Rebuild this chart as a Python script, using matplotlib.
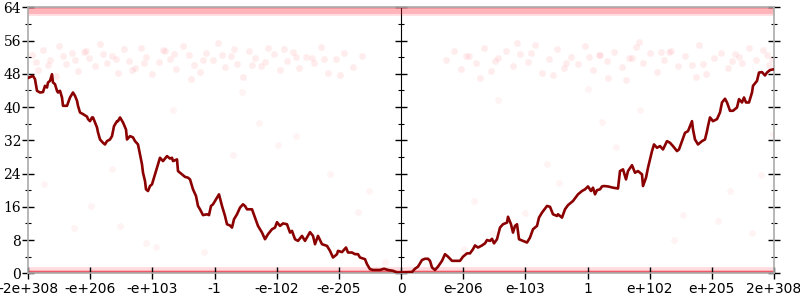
import matplotlib.pyplot as plt
import numpy as np

# sample index along the ordered float axis (0 .. 746) and the traced value
line_x = [0, 5, 7, 9, 12, 15, 17, 19, 20, 22, 24, 25, 27, 29, 30, 32, 34, 35, 39, 42,
          45, 47, 49, 50, 52, 55, 59, 60, 62, 64, 65, 67, 69, 70, 72, 75, 77, 79, 82, 84,
          86, 89, 90, 92, 95, 98, 99, 102, 105, 107, 110, 112, 114, 115, 117, 118, 120, 122, 124, 127,
          129, 132, 135, 139, 142, 144, 145, 149, 150, 154, 157, 160, 162, 165, 168, 170, 172, 175, 179, 181,
          183, 185, 187, 189, 191, 194, 195, 197, 199, 202, 204, 206, 209, 212, 215, 217, 219, 224, 227, 230,
          234, 237, 240, 244, 247, 249, 252, 255, 259, 262, 264, 267, 270, 274, 277, 282, 285, 287, 290, 294,
          299, 302, 305, 309, 310, 314, 318, 320, 324, 327, 330, 332, 337, 339, 342, 345, 352, 356, 360, 365,
          369, 375, 384, 387, 390, 394, 397, 400, 402, 404, 407, 410, 414, 417, 420, 422, 424, 432, 435, 439,
          442, 445, 447, 450, 454, 457, 459, 462, 464, 466, 469, 472, 475, 479, 480, 483, 485, 487, 489, 491,
          495, 499, 502, 505, 509, 511, 514, 519, 522, 525, 529, 530, 534, 537, 540, 545, 550, 554, 557, 560,
          563, 565, 567, 569, 572, 574, 576, 580, 585, 590, 592, 595, 598, 600, 604, 607, 610, 614, 615, 618,
          620, 624, 626, 629, 632, 635, 639, 642, 645, 649, 651, 654, 657, 660, 664, 665, 667, 670, 674, 677,
          679, 680, 682, 685, 689, 692, 694, 697, 699, 702, 705, 709, 711, 714, 716, 718, 721, 724, 725, 729,
          731, 734, 737, 739, 742, 746]
line_y = [47.0, 47.5, 46.7, 43.9, 43.5, 43.6, 45.1, 44.7, 45.9, 46.3, 47.9, 45.9, 45.5, 43.9, 43.5, 43.9, 42.3, 40.3, 40.3, 42.3,
          43.5, 42.7, 41.5, 40.3, 38.7, 38.3, 37.7, 37.1, 36.6, 37.5, 37.5, 36.3, 35.1, 33.9, 32.2, 31.4, 31.0, 31.8, 32.2, 33.0,
          35.4, 36.6, 36.6, 37.5, 36.3, 34.6, 32.2, 33.0, 32.7, 31.8, 31.0, 28.6, 26.2, 24.2, 22.2, 20.2, 19.8, 21.0, 21.4, 23.8,
          25.4, 27.8, 27.0, 28.2, 27.6, 27.8, 27.0, 27.4, 24.6, 23.8, 23.2, 23.0, 22.6, 20.2, 18.6, 16.2, 15.4, 14.0, 14.2, 14.0,
          16.2, 16.6, 17.4, 18.2, 19.0, 16.2, 15.4, 13.8, 11.8, 11.5, 11.0, 13.0, 14.2, 15.8, 16.6, 16.2, 15.4, 15.4, 13.4, 11.4,
          9.8, 8.2, 9.4, 10.6, 11.0, 12.3, 11.4, 12.0, 11.8, 9.8, 10.2, 8.2, 7.8, 9.0, 7.8, 9.9, 9.0, 7.0, 9.0, 7.0,
          6.6, 5.4, 3.8, 4.6, 5.4, 5.1, 6.2, 5.0, 5.0, 4.6, 4.6, 3.8, 3.4, 2.2, 1.0, 0.8, 0.8, 1.1, 0.8, 0.6,
          0.2, 0.2, 0.3, 1.1, 1.6, 3.2, 3.5, 3.5, 3.0, 1.4, 0.8, 1.6, 3.0, 4.6, 4.0, 3.5, 3.0, 3.0, 4.0, 4.8,
          4.8, 5.8, 6.7, 6.2, 6.7, 7.2, 8.0, 7.8, 8.3, 7.2, 8.2, 11.0, 11.8, 12.2, 13.6, 11.8, 9.8, 11.4, 11.8, 8.2,
          7.8, 7.4, 8.6, 10.6, 11.4, 13.4, 14.6, 16.2, 16.0, 14.2, 13.8, 14.2, 13.4, 15.4, 16.4, 17.4, 19.0, 19.8, 20.2, 20.9,
          19.8, 20.6, 19.0, 20.0, 20.2, 20.9, 21.0, 20.9, 20.6, 20.4, 24.6, 25.0, 22.6, 24.6, 26.0, 24.2, 24.6, 23.8, 21.0, 23.0,
          25.4, 29.4, 31.0, 30.2, 30.6, 29.8, 31.8, 31.4, 30.6, 29.4, 29.8, 31.8, 33.8, 34.2, 36.6, 34.6, 32.2, 31.0, 31.8, 32.2,
          34.2, 35.4, 37.5, 36.6, 37.1, 38.7, 41.1, 42.0, 41.1, 39.1, 39.1, 39.9, 41.9, 41.1, 42.3, 41.1, 41.1, 43.5, 45.1, 46.3,
          48.3, 48.4, 47.6, 48.3, 48.9, 49.1]

# faint cloud of samples between 46 and 56
cloud_x = [4, 10, 15, 22, 28, 31, 38, 44, 50, 56, 61, 67, 72, 79, 84, 90, 96, 101, 107, 113,
           118, 124, 131, 137, 142, 148, 155, 161, 166, 172, 178, 185, 190, 197, 203, 209, 215, 221, 227, 233,
           240, 246, 252, 259, 265, 271, 278, 286, 293, 300, 308, 316, 325, 334, 20, 47, 75, 104, 135, 163,
           194, 224, 256, 284, 312, 8, 35, 58, 88, 116, 146, 175, 206, 237, 268, 296,
           418, 426, 433, 441, 448, 456, 463, 470, 478, 485, 492, 500, 507, 514, 521, 529, 536, 543, 550, 557,
           565, 572, 579, 586, 594, 601, 608, 615, 622, 629, 636, 643, 650, 657, 664, 671, 678, 686, 693, 700,
           707, 714, 721, 728, 735, 741, 452, 489, 525, 561, 598, 633, 668, 704, 739, 611, 580,
           438, 467, 503, 538, 571, 604, 641, 675, 711, 744]
cloud_y = [52.5, 49.0, 53.8, 51.2, 47.5, 54.6, 50.3, 52.9, 48.6, 53.2, 51.7, 49.8, 55.1, 50.6, 52.2, 48.1, 53.9, 51.0, 49.4, 54.3,
           52.0, 47.9, 50.8, 53.5, 51.5, 49.1, 54.8, 52.6, 50.1, 48.4, 53.0, 51.3, 55.4, 49.6, 52.4, 50.4, 47.2, 53.6, 51.9, 49.9,
           54.1, 52.8, 48.8, 51.1, 53.3, 49.3, 52.1, 50.7, 54.5, 48.3, 51.6, 53.1, 49.7, 52.3, 50.0, 51.4, 52.7, 48.9, 53.7, 46.8,
           52.5, 50.2, 54.0, 51.8, 47.6, 50.9, 52.2, 53.4, 51.6, 50.5, 52.8, 51.2, 53.9, 50.8, 52.0, 51.5,
           51.3, 53.6, 49.2, 52.4, 50.5, 54.2, 48.7, 51.9, 53.4, 49.8, 52.8, 50.9, 55.0, 48.2, 51.5, 53.9, 49.5, 52.1, 50.3, 54.7,
           48.9, 52.6, 51.0, 53.2, 49.6, 51.8, 54.4, 50.7, 52.9, 48.5, 51.2, 53.5, 49.9, 52.2, 50.1, 54.9, 48.0, 51.7, 53.0, 49.4,
           52.7, 50.6, 54.1, 51.4, 53.8, 50.2, 46.9, 55.3, 47.7, 52.0, 46.6, 53.3, 47.3, 51.1, 52.5, 55.6, 47.0,
           52.3, 51.1, 53.0, 50.6, 52.6, 51.9, 53.3, 50.4, 52.1, 51.6]

# sparse samples in between
sparse_x = [46, 92, 118, 176, 205, 231, 268, 302, 341, 357, 16, 63, 145, 214, 250, 330, 128, 84,
            436, 465, 497, 531, 574, 612, 655, 702, 724, 745, 446, 519, 588, 646, 690, 733, 470, 560]
sparse_y = [10.8, 11.3, 7.2, 5.1, 28.5, 36.2, 33.1, 24.0, 19.7, 2.8, 21.5, 16.2, 39.2, 43.5, 30.9, 14.8, 6.4, 25.1,
            5.9, 9.7, 14.5, 21.8, 36.3, 39.4, 14.1, 19.8, 9.6, 33.5, 17.3, 26.4, 30.5, 7.9, 12.6, 23.7, 41.8, 44.3]

# dense rows of samples
band_levels = [0.2, 63.2]

x_ticks = np.linspace(0, 746, 13)
x_labels = ["-2e+308", "-e+206", "-e+103", "-1", "-e-102", "-e-205", "0",
            "e-206", "e-103", "1", "e+102", "e+205", "2e+308"]
y_ticks = list(range(0, 65, 8))

fig = plt.figure(figsize=(8, 3), dpi=100)
ax = fig.add_axes([0.035, 0.089, 0.9325, 0.8867])

for lv in band_levels:
    ax.axhline(lv, color="#ff2a3a", lw=7, alpha=0.16, zorder=1)
    ax.axhline(lv, color="#ff2a3a", lw=3.5, alpha=0.22, zorder=1)
ax.axhline(0.2, color="#e0202e", lw=1.5, alpha=0.6, zorder=1)
ax.axhline(63.8, color="#e0202e", lw=1.2, alpha=0.45, zorder=1)

ax.scatter(cloud_x, cloud_y, s=24, color="#ff2030", alpha=0.08, linewidths=0, zorder=1)
ax.scatter(sparse_x, sparse_y, s=24, color="#ff2030", alpha=0.05, linewidths=0, zorder=1)

ax.plot(line_x, line_y, color="#8b0000", lw=1.9, zorder=3)

ax.set_xlim(0, 746)
ax.set_ylim(0, 64)
ax.set_xticks(x_ticks)
ax.set_xticklabels(x_labels, family="DejaVu Sans", fontsize=10)
ax.set_yticks(y_ticks)
ax.set_yticklabels([str(v) for v in y_ticks], family="DejaVu Serif", fontsize=10)
ax.set_yticks(range(4, 64, 8), minor=True)
ax.tick_params(axis="y", which="major", direction="inout", length=8, width=1,
               right=True, left=True, labelright=False, pad=1)
ax.tick_params(axis="y", which="minor", direction="inout", length=4, width=0.8,
               right=True, left=True)
ax.tick_params(axis="x", which="major", direction="inout", length=8, width=1, pad=2)
for sp in ax.spines.values():
    sp.set_color("#aaaaaa")
    sp.set_linewidth(1.2)

# middle axis at zero
mid = ax.secondary_yaxis(0.5)
mid.set_yticks(y_ticks)
mid.set_yticklabels([])
mid.set_yticks(range(4, 64, 8), minor=True)
mid.tick_params(which="major", direction="inout", length=8, width=1)
mid.tick_params(which="minor", direction="inout", length=4, width=0.8)
mid.spines["left"].set_color("#aaaaaa")
mid.spines["left"].set_linewidth(1.2)

fig.savefig("out.png", dpi=100)
